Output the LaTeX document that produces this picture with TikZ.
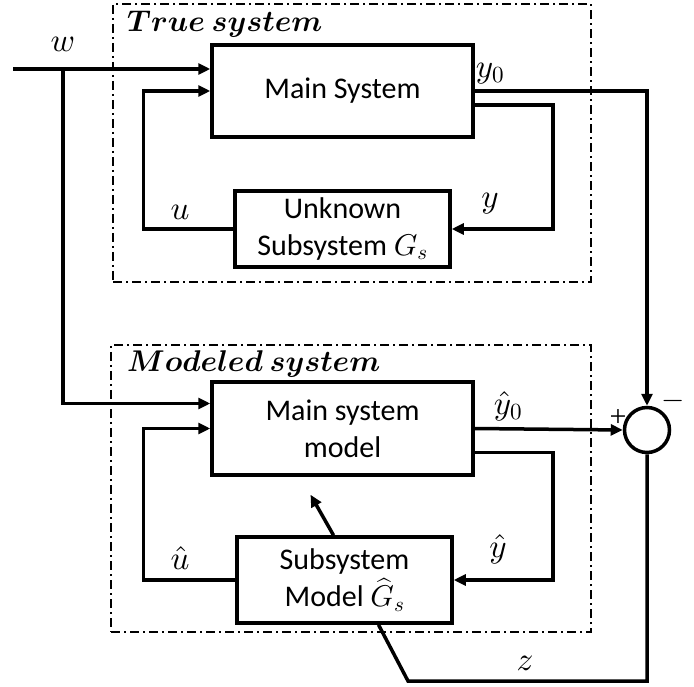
\documentclass[tikz,border=0pt]{standalone}
\usepackage{amsmath}
\usepackage{bm}
\usepackage{fontspec}
\setmainfont{Carlito}
\newfontfamily\signfont{Liberation Serif}
\DeclareFontShape{OT1}{cmr}{m}{n}{<->cmr10}{}
\DeclareFontShape{OT1}{cmr}{bx}{n}{<->cmbx10}{}
\DeclareFontShape{OML}{cmm}{m}{it}{<->cmmi10}{}
\DeclareFontShape{OML}{cmm}{b}{it}{<->cmmib10}{}
\DeclareFontShape{OMS}{cmsy}{m}{n}{<->cmsy10}{}
\DeclareFontShape{OMS}{cmsy}{b}{n}{<->cmbsy10}{}
\usetikzlibrary{arrows.meta,calc}
\begin{document}
\begin{tikzpicture}[x=1pt,y=-1pt,
  blk/.style={draw, line width=3.5pt, inner sep=0pt, align=center, font=\fontsize{30}{37}\selectfont},
  conn/.style={line width=3.5pt},
  arr/.style={conn, -{Triangle[length=12pt,width=11pt]}},
  frame/.style={draw, line width=1.8pt, dash pattern=on 9pt off 4pt on 2pt off 4pt},
  lbl/.style={font=\fontsize{33}{35}\selectfont, inner sep=0pt},
  sgn/.style={font=\fontsize{30}{32}\selectfont, inner sep=0pt},
  ttl/.style={anchor=base west, inner sep=0pt, font=\fontsize{30}{32}\selectfont},
]
\useasboundingbox (0,0) rectangle (694,687);
% frames
\node[frame, minimum width=478pt, minimum height=278pt] (tsys) at (352,143) {};
\node[frame, minimum width=480pt, minimum height=287pt] (msys) at (351,488.5) {};
\node[ttl] (ttrue) at (127,32) {$\bm{True\ system}$};
\node[ttl] (tmod) at (127,371) {$\bm{Modeled\ system}$};
% blocks
\node[blk, minimum width=261pt, minimum height=92pt] (main) at (342.5,91) {Main System};
\node[blk, minimum width=215pt, minimum height=76pt] (unk) at (342.5,229) {Unknown\\Subsystem $G_{s}$};
\node[blk, minimum width=261pt, minimum height=93pt] (mmod) at (342.5,428.5) {Main system\\model};
\node[blk, minimum width=215pt, minimum height=86pt] (smod) at (344.5,580) {Subsystem\\Model $\widehat{G}_{s}$};
\node[draw, circle, line width=3.5pt, minimum size=45pt, inner sep=0pt] (sum) at (647,430) {};
% connectors
\coordinate (win) at (13,69);
\coordinate (wb) at (63,69);
\coordinate (zc) at (408,681);
\draw[arr] (win) -- (win -| main.west);
\draw[arr] (wb) |- ($(mmod.west)+(0,-25)$);
\draw[arr] (unk.west) -- ++(-90,0) |- (main.west);
\draw[arr] ($(main.east)+(0,14)$) -- ++(78,0) |- (unk.east);
\draw[arr] (main.east) -| (sum.north);
\draw[arr] (mmod.east) -- (sum.west);
\draw[arr] ($(mmod.east)+(0,24)$) -- ++(78,0) |- (smod.east);
\draw[arr] (smod.west) -- ++(-92,0) |- (mmod.west);
\draw[arr] ($(smod.north)+(-11,0)$) -- ($(mmod.south)+(-32,18)$);
\draw[conn] (sum.south) |- (zc) -- ($(smod.south)+(34,0)$);
% labels
\node[lbl] (lw) at (63,44) {$w$};
\node[lbl] (ly0) at (490,74) {$y_0$};
\node[lbl] (lu) at (180,212) {$u$};
\node[lbl] (ly) at (490,204) {$y$};
\node[lbl] (lyh0) at (508,406) {$\hat{y}_0$};
\node[lbl] (lyh) at (498,549) {$\hat{y}$};
\node[lbl] (luh) at (180,558) {$\hat{u}$};
\node[lbl] (lz) at (525,663) {$z$};
\node[sgn] (lp) at (618,418) {\signfont +};
\node[sgn] (lm) at (673,401) {$-$};
\end{tikzpicture}
\end{document}
